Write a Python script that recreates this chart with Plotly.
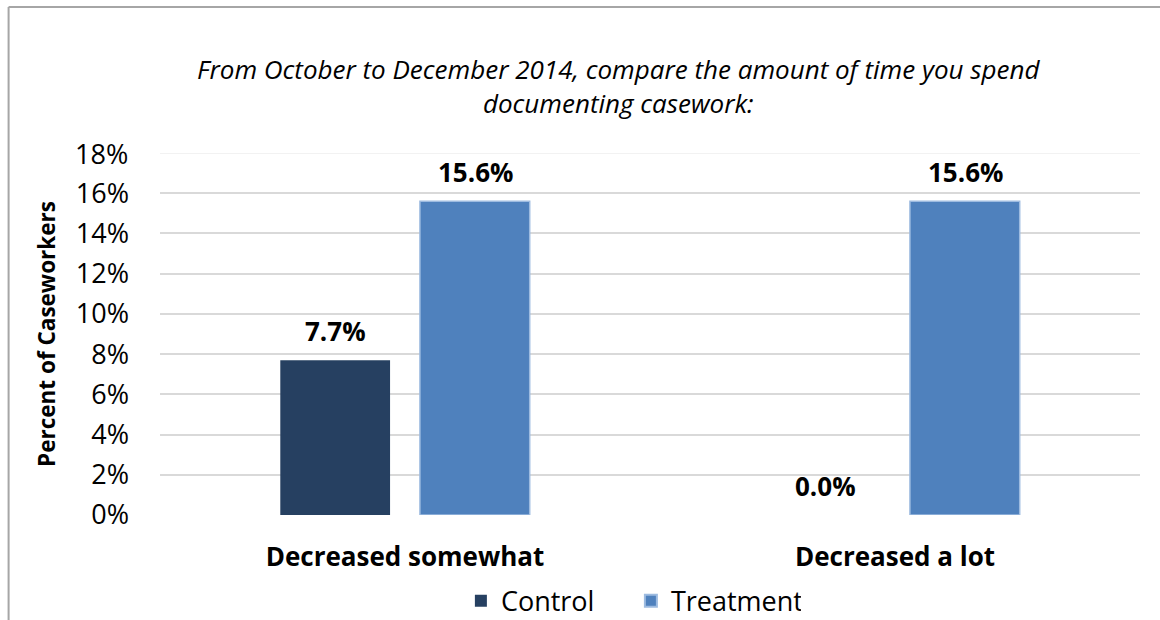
import plotly.graph_objects as go

categories = ["Decreased somewhat", "Decreased a lot"]
control = [7.7, 0.0]
treatment = [15.6, 15.6]
series_names = ["Control", "Treatment"]
y_ticks = [0, 2, 4, 6, 8, 10, 12, 14, 16, 18]
y_tick_labels = [f"{v}%" for v in y_ticks]
title_text = "From October to December 2014, compare the amount of time you spend<br>documenting casework:"
y_title = "Percent of Caseworkers"

FONT = "Open Sans"
fig = go.Figure()
fig.add_trace(go.Bar(x=categories, y=control, name=series_names[0],
                     marker=dict(color="#264061", line=dict(width=0))))
fig.add_trace(go.Bar(x=categories, y=treatment, name=series_names[1],
                     marker=dict(color="#4f81bd", line=dict(color="#9dbbe0", width=1.5))))

# data labels
for vals, shift in [(control, -70), (treatment, 70)]:
    for c, v in zip(categories, vals):
        fig.add_annotation(x=c, y=v, text=f"<b>{v:.1f}%</b>", showarrow=False,
                           xshift=shift, yshift=9, yanchor="bottom",
                           font=dict(family=FONT, size=26, color="#000"))

# lighter top gridline
fig.add_shape(type="line", xref="paper", yref="y", x0=0, x1=1, y0=y_ticks[-1], y1=y_ticks[-1],
              line=dict(color="#eeeeee", width=1.5), layer="below")

# chart border (left & top)
fig.add_shape(type="line", xref="paper", yref="paper", x0=-0.1545, x1=-0.1545, y0=-0.35, y1=1.403,
              line=dict(color="#a6a6a6", width=2))
fig.add_shape(type="line", xref="paper", yref="paper", x0=-0.1545, x1=1.1, y0=1.403, y1=1.403,
              line=dict(color="#a6a6a6", width=2))

fig.update_layout(
    width=1160, height=620,
    margin=dict(l=160, r=20, t=153, b=105, autoexpand=False),
    paper_bgcolor="white", plot_bgcolor="white",
    barmode="group", bargap=0.43, bargroupgap=0.214,
    font=dict(family=FONT, color="#000"),
    title=dict(text=title_text, x=0.533, xanchor="center", y=0.873, yanchor="middle",
               font=dict(family=FONT, size=26, color="#000", style="italic")),
    showlegend=True,
    legend=dict(orientation="h", x=0.4805, xanchor="center", y=-0.238, yanchor="middle",
                font=dict(family=FONT, size=27), itemsizing="constant", traceorder="normal",
                entrywidth=125, entrywidthmode="pixels"),
    xaxis=dict(showgrid=False, showline=False, ticks="", ticklabelstandoff=24,
               tickfont=dict(family=FONT, size=26, color="#000"),
               tickvals=categories, ticktext=[f"<b>{c}</b>" for c in categories]),
    yaxis=dict(range=[0, 18], tickvals=y_ticks[:-1], ticktext=y_tick_labels[:-1],
               showgrid=True, gridcolor="#d9d9d9", gridwidth=1.5, zeroline=False,
               showline=False, ticks="", ticklabelstandoff=30,
               tickfont=dict(family=FONT, size=27, color="#000"),
               title=dict(text=f"<b>{y_title}</b>", font=dict(family=FONT, size=22.5, color="#000"),
                          standoff=13)),
)
# label for the top tick (its gridline is drawn lighter above)
fig.add_annotation(xref="paper", yref="y", x=0, y=y_ticks[-1], text=y_tick_labels[-1],
                   showarrow=False, xanchor="right", xshift=-30,
                   font=dict(family=FONT, size=27, color="#000"))
fig.write_html("out.html", config={"displayModeBar": False},
               post_script="document.body.style.margin='0px';document.body.style.overflow='hidden';")
